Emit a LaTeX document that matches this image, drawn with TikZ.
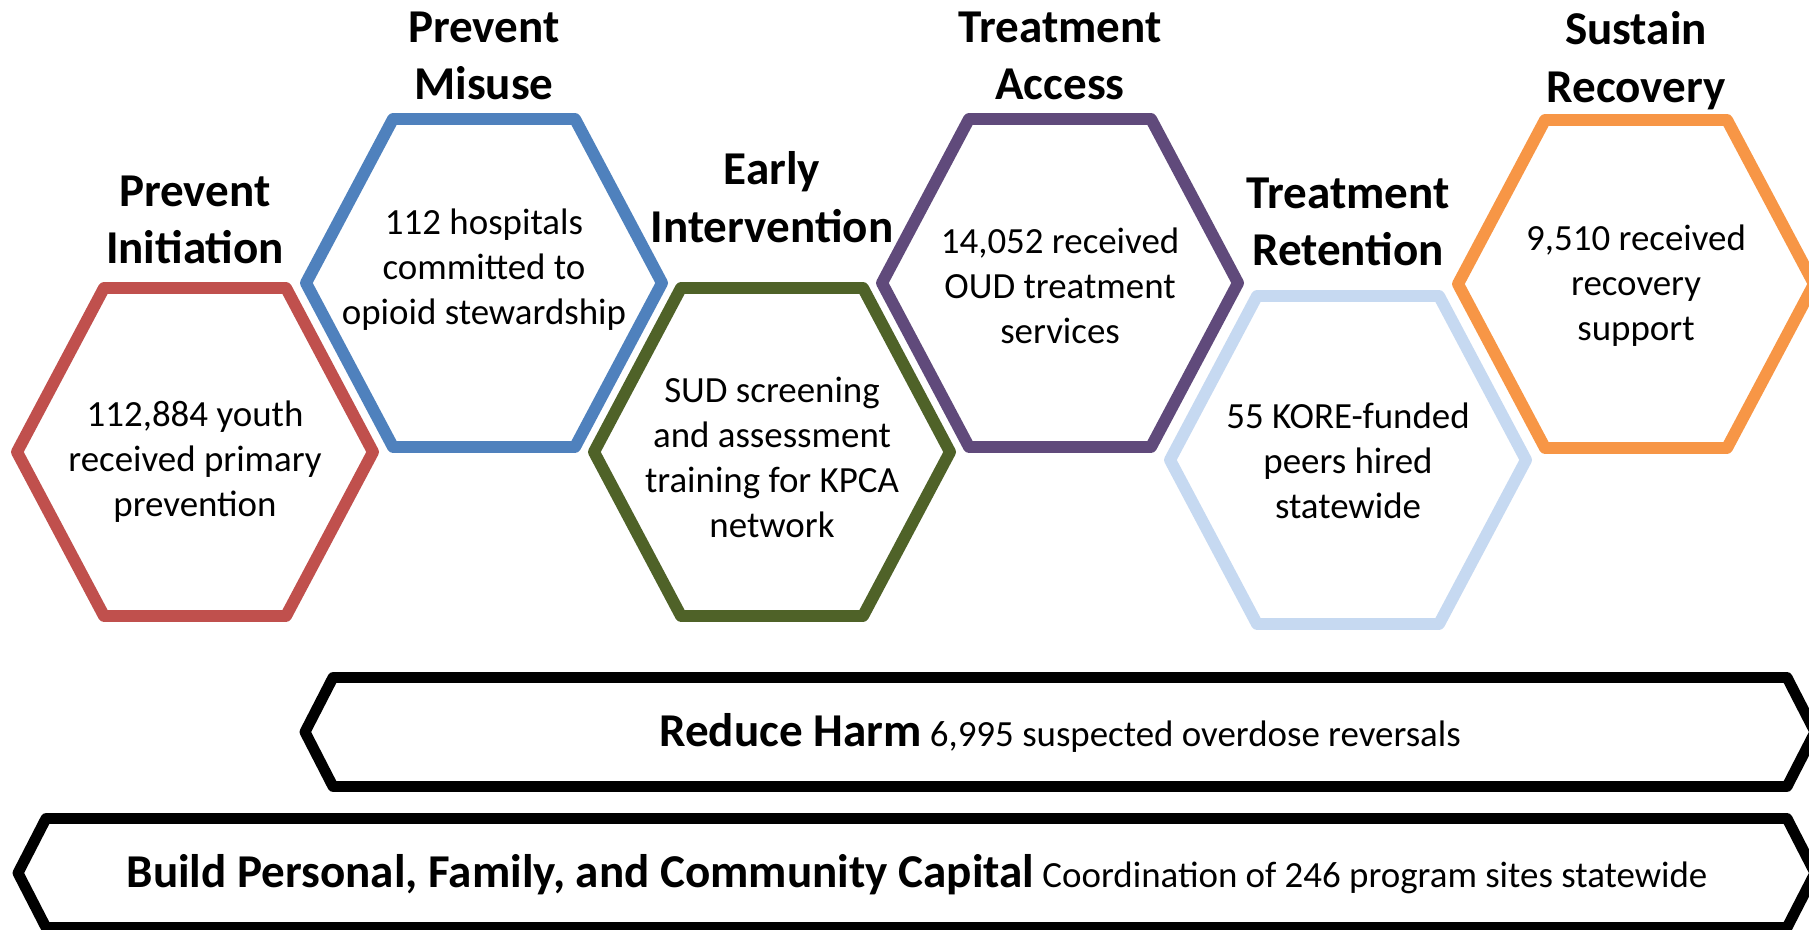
\documentclass[tikz,border=0pt]{standalone}
\usepackage{fontspec}
\setmainfont{Carlito}
\definecolor{initred}{HTML}{C0504D}
\definecolor{misuseblue}{HTML}{4F81BD}
\definecolor{earlygreen}{HTML}{4F6228}
\definecolor{accesspurple}{HTML}{604A7B}
\definecolor{retainblue}{HTML}{C6D9F1}
\definecolor{recoverorange}{HTML}{F79646}
\newcommand{\bandhead}[1]{\textbf{\fontsize{13.4}{16.4}\selectfont #1}}
\tikzset{
  cell/.style={line width=3.4pt, line join=round},
  celltitle/.style={font=\fontsize{13.4}{16.4}\selectfont\bfseries, align=center, anchor=north, inner sep=0pt},
  cellbody/.style={font=\fontsize{10.5}{12.8}\selectfont, align=center, anchor=north, inner sep=0pt},
  band/.style={line width=3.1pt, line join=round},
  bandtext/.style={font=\fontsize{10.5}{12.8}\selectfont, anchor=base, inner sep=0pt}
}
\begin{document}
\begin{tikzpicture}[x=0.1mm,y=-0.1mm]
\useasboundingbox (0,0) rectangle (1809,930);
\clip (0,0) rectangle (1809,930);
\foreach \n/\cx/\cy/\ty/\by/\col/\head/\txt in {
    init/195/452/175/400/initred/{Prevent\\Initiation}/{112,884 youth\\received primary\\prevention},
    misuse/484/283/11/208/misuseblue/{Prevent\\Misuse}/{112 hospitals\\committed to\\opioid stewardship},
    early/772/452/151/376/earlygreen/{Early\\Intervention}/{SUD screening\\and assessment\\training for KPCA\\network},
    access/1060/283/11/227/accesspurple/{Treatment\\Access}/{14,052 received\\OUD treatment\\services},
    retain/1348/460/177/402/retainblue/{Treatment\\Retention}/{55 KORE-funded\\peers hired\\statewide},
    recover/1636/284/11/224/recoverorange/{Sustain\\Recovery}/{9,510 received\\recovery\\support}} {
    \draw[cell, draw=\col] (\cx,\cy) ++(-178,0) -- ++(87,-164) -- ++(182,0)
        -- ++(87,164) -- ++(-87,164) -- ++(-182,0) -- cycle;
    \node[celltitle] (\n-head) at (\cx,\ty) {\head};
    \node[cellbody] (\n-text) at (\cx,\by) {\txt};
}
\draw[band] (305,732) -- (333,677.5) -- (1787,677.5) -- (1815,732)
    -- (1787,786.5) -- (333,786.5) -- cycle;
\node[bandtext] (harm) at (1060,747) {\bandhead{Reduce Harm} 6,995 suspected overdose reversals};
\draw[band] (18,873) -- (46,818.5) -- (1787,818.5) -- (1815,873)
    -- (1787,927.5) -- (46,927.5) -- cycle;
\node[bandtext] (capital) at (917,888) {\bandhead{Build Personal, Family, and Community Capital} Coordination of 246 program sites statewide};
\end{tikzpicture}
\end{document}
